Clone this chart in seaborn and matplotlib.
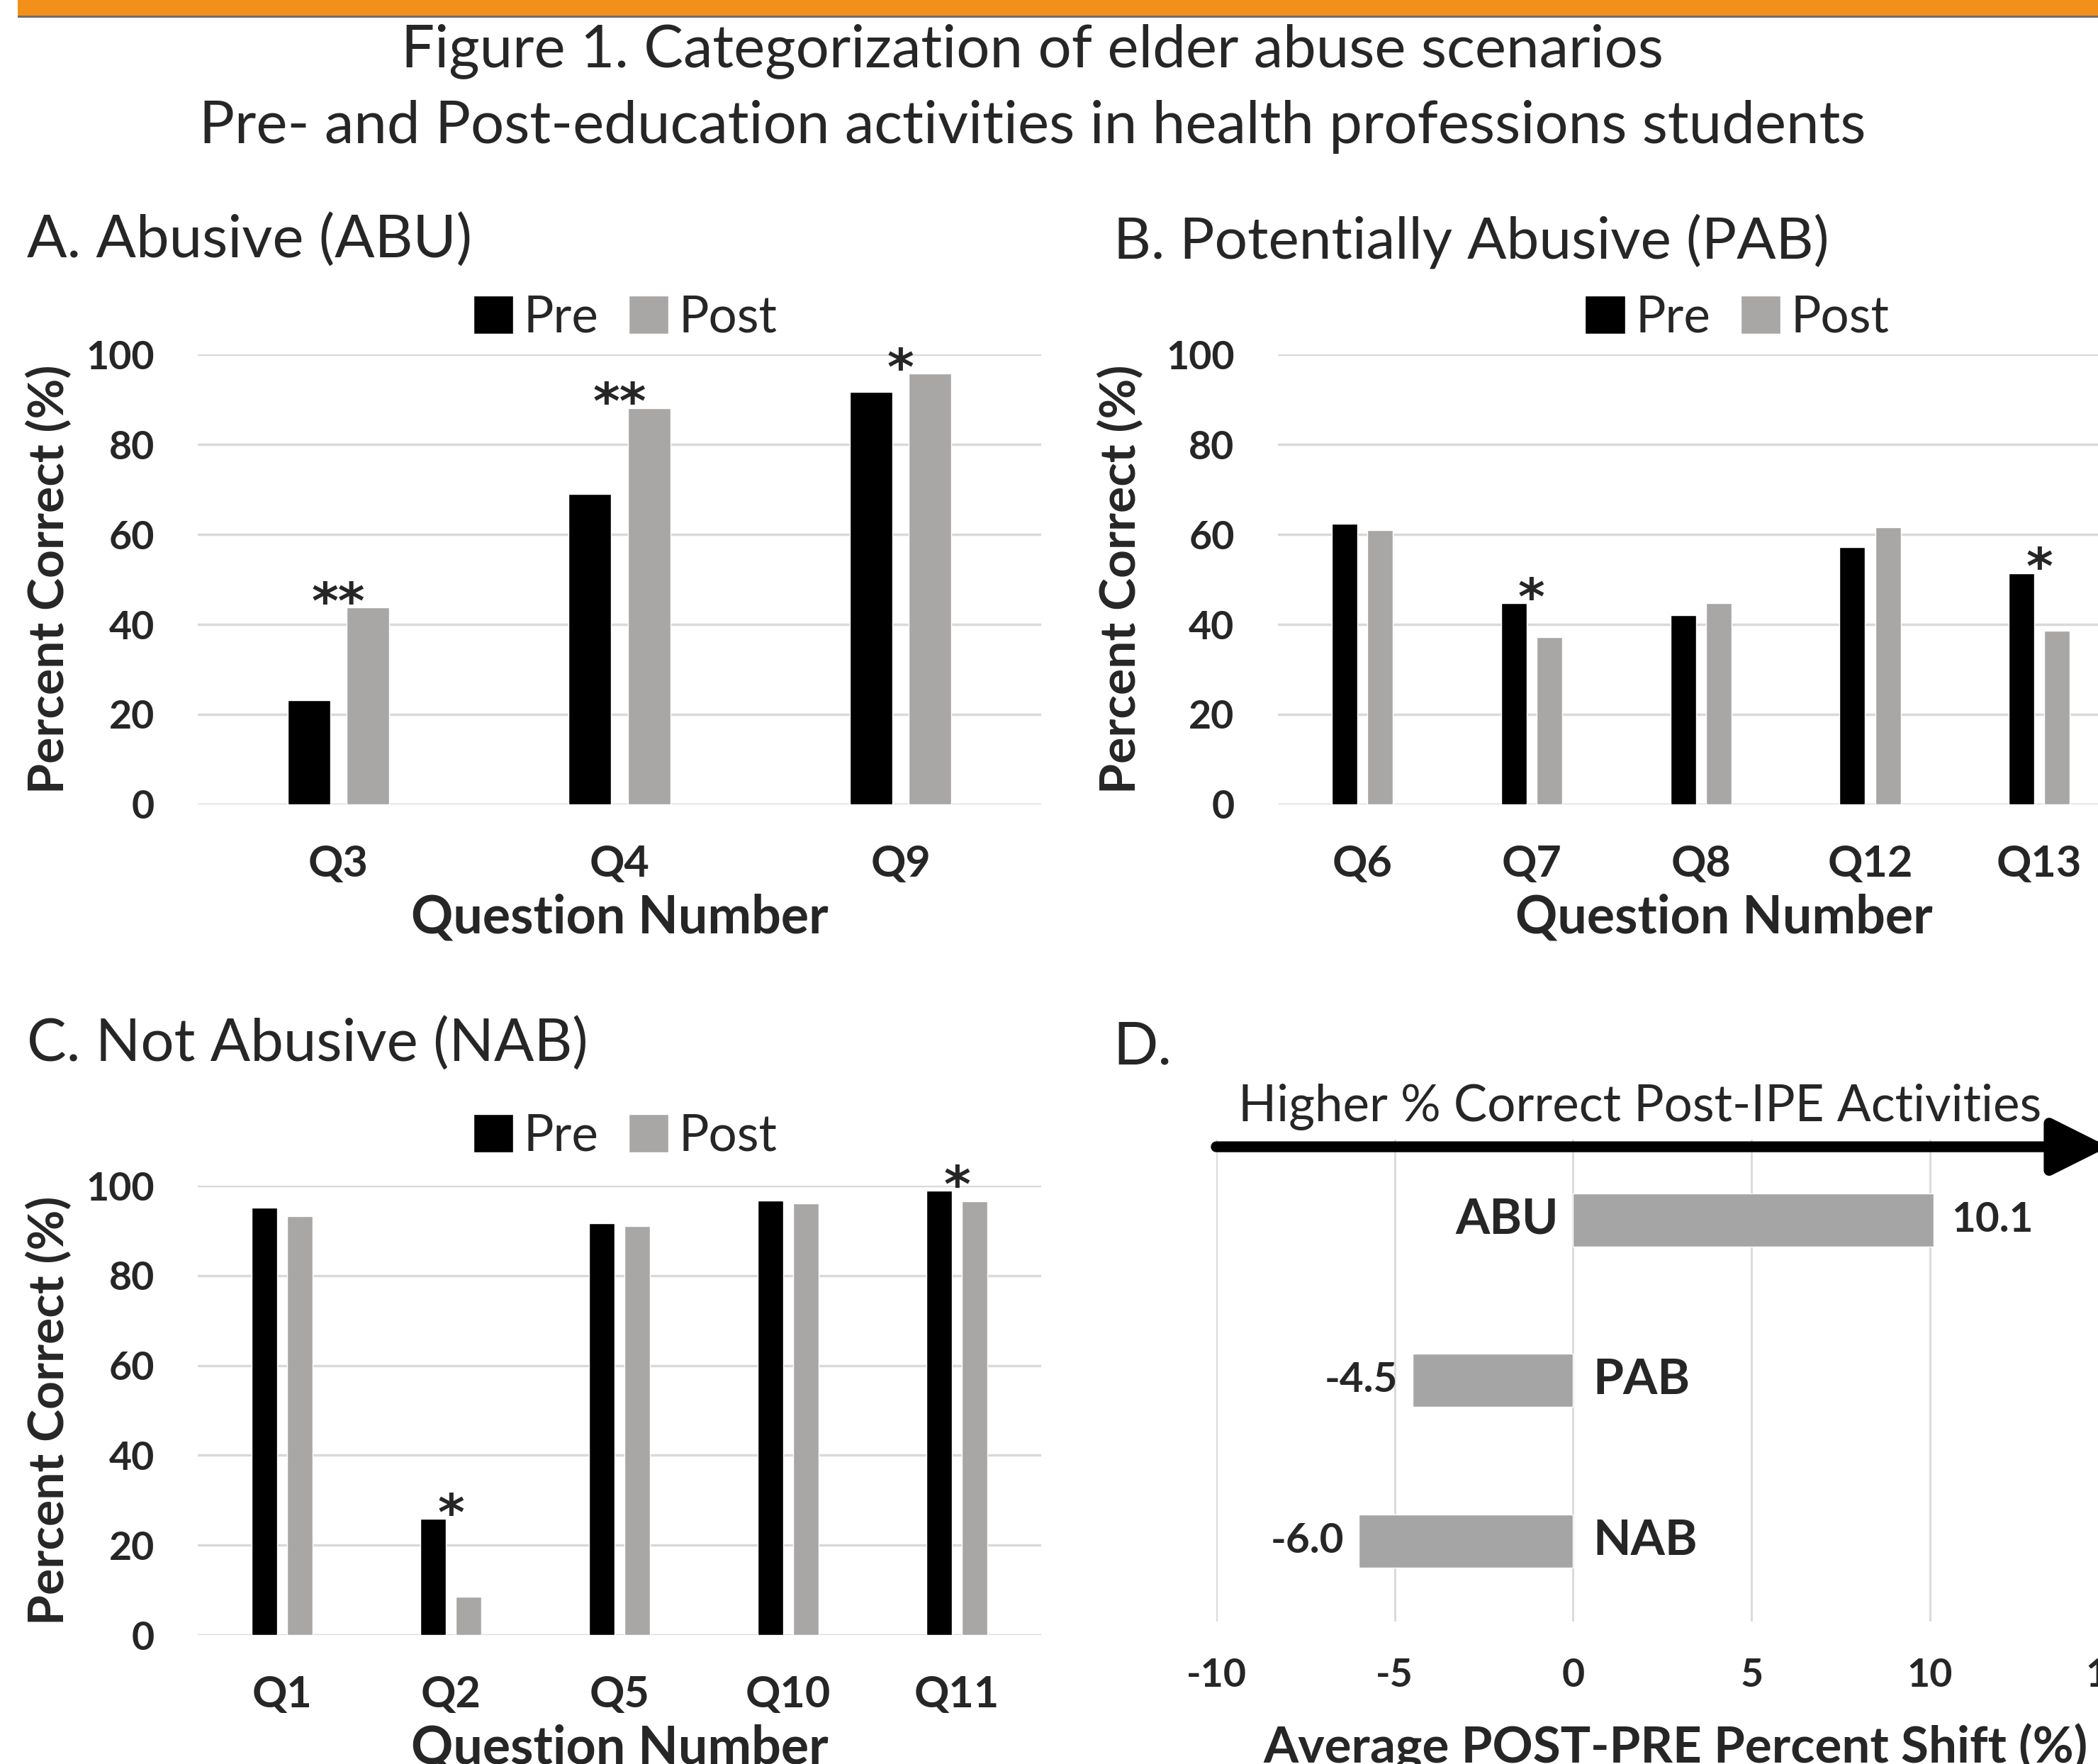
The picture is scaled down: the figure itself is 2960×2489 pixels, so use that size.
import matplotlib
matplotlib.use("Agg")
import matplotlib.pyplot as plt
import seaborn as sns
import pandas as pd
from matplotlib.patches import Rectangle

# data
abu_q = ["Q3", "Q4", "Q9"]
abu_pre = [23.2, 69.0, 91.7]
abu_post = [43.8, 88.1, 95.8]
abu_sig = ["**", "**", "*"]

pab_q = ["Q6", "Q7", "Q8", "Q12", "Q13"]
pab_pre = [62.4, 44.7, 42.1, 57.1, 51.4]
pab_post = [60.9, 37.1, 44.8, 61.5, 38.6]
pab_sig = ["", "*", "", "", "*"]

nab_q = ["Q1", "Q2", "Q5", "Q10", "Q11"]
nab_pre = [95.2, 25.8, 91.6, 96.7, 98.9]
nab_post = [93.3, 8.5, 91.0, 96.0, 96.6]
nab_sig = ["", "*", "", "", "*"]

shift_cat = ["ABU", "PAB", "NAB"]
shift_val = [10.1, -4.5, -6.0]

PALETTE = {"Pre": "#000000", "Post": "#A9A6A6"}
GRID = "#D9D9D9"

sns.set_theme(style="white")
plt.rcParams['font.family'] = ['Lato', 'DejaVu Sans']
plt.rcParams['axes.unicode_minus'] = False

W, H = 2960, 2489
fig = plt.figure(figsize=(W / 100, H / 100), dpi=100)

# orange banner at the top
fig.patches.append(Rectangle((25 / W, 1 - 22 / H), 1, 22 / H, transform=fig.transFigure,
                             facecolor="#F39019", edgecolor="none"))
fig.patches.append(Rectangle((25 / W, 1 - 25 / H), 1, 3 / H, transform=fig.transFigure,
                             facecolor="#6E6E6E", edgecolor="none"))

fig.text(0.492, 0.971, "Figure 1. Categorization of elder abuse scenarios",
         ha="center", va="center", fontsize=60)
fig.text(0.492, 0.928, "Pre- and Post-education activities in health professions students",
         ha="center", va="center", fontsize=60)


def bar_panel(ax, questions, pre, post, sig, legend_xy, ylab_x, xlab_x=0.5):
    n = len(questions)
    df = pd.DataFrame({
        "Question": questions * 2,
        "Time": ["Pre"] * n + ["Post"] * n,
        "Percent": pre + post,
    })
    sns.barplot(data=df, x="Question", y="Percent", hue="Time", palette=PALETTE,
                width=0.42, gap=0.28, saturation=1, errorbar=None, ax=ax)
    ax.set_ylim(0, 100)
    ax.set_xlim(-0.5, n - 0.5)
    ax.set_yticks(range(0, 101, 20))
    ax.grid(axis="y", color=GRID, lw=2.5)
    ax.set_axisbelow(True)
    sns.despine(ax=ax, left=True, bottom=True)
    ax.tick_params(axis="y", length=0, pad=44, labelsize=40)
    ax.tick_params(axis="x", length=0, pad=40, labelsize=44)
    for lab in ax.get_xticklabels() + ax.get_yticklabels():
        lab.set_fontweight("bold")

    ax.set_ylabel("Percent Correct (%)", fontsize=50, fontweight="bold")
    ax.yaxis.set_label_coords(ylab_x, 0.5)
    ax.yaxis.label.set_va("center")
    ax.set_xlabel("Question Number", fontsize=53, fontweight="bold")
    ax.xaxis.set_label_coords(xlab_x, -0.252)
    ax.xaxis.label.set_va("center")

    handles, labels = ax.get_legend_handles_labels()
    ax.get_legend().remove()
    ax.legend(handles, labels, loc="center", bbox_to_anchor=legend_xy,
              bbox_transform=fig.transFigure, ncol=2, frameon=False, fontsize=51,
              handlelength=0.8, handleheight=0.8, handletextpad=0.2, columnspacing=0.6,
              borderpad=0)

    for i, s in enumerate(sig):
        if s:
            ax.text(i, max(pre[i], post[i]) - 2.5, s, ha="center", va="baseline",
                    fontsize=52, fontweight="bold", family="DejaVu Sans", clip_on=False)


# A
axA = fig.add_axes([0.0943, 0.544, 0.402, 0.2551])
bar_panel(axA, abu_q, abu_pre, abu_post, abu_sig, (0.298, 0.820), -0.176)
fig.text(0.0128, 0.8634, "A. Abusive (ABU)", ha="left", va="center", fontsize=60)

# B
axB = fig.add_axes([0.609, 0.544, 0.4034, 0.2551])
bar_panel(axB, pab_q, pab_pre, pab_post, pab_sig, (0.828, 0.820), -0.185, 0.527)
fig.text(0.5307, 0.8634, "B. Potentially Abusive (PAB)", ha="left", va="center", fontsize=59)

# C
axC = fig.add_axes([0.0943, 0.0731, 0.402, 0.2547])
bar_panel(axC, nab_q, nab_pre, nab_post, nab_sig, (0.298, 0.356), -0.176)
fig.text(0.0128, 0.4077, "C. Not Abusive (NAB)", ha="left", va="center", fontsize=60)

# D
axD = fig.add_axes([0.5797, 0.0808, 0.4253, 0.2732])
dfD = pd.DataFrame({"Category": shift_cat, "Shift": shift_val})
sns.barplot(data=dfD, y="Category", x="Shift", orient="h", color="#A5A5A5",
            saturation=1, width=0.33, errorbar=None, ax=axD)
axD.set_xlim(-10, 15)
axD.set_ylim(2.5, -0.5)
axD.set_xticks([-10, -5, 0, 5, 10, 15])
axD.set_yticks([])
axD.grid(axis="x", color=GRID, lw=2)
axD.set_axisbelow(True)
sns.despine(ax=axD, left=True, bottom=True)
axD.tick_params(axis="x", length=0, pad=37, labelsize=40)
for lab in axD.get_xticklabels():
    lab.set_fontweight("bold")
axD.set_ylabel("")
axD.set_xlabel("Average POST-PRE Percent Shift (%)", fontsize=51, fontweight="bold")
axD.xaxis.set_label_coords(0.515, -0.262)
axD.xaxis.label.set_va("center")

for i, (cat, v) in enumerate(zip(shift_cat, shift_val)):
    if v > 0:
        axD.text(-0.4, i, cat, ha="right", va="center", fontsize=50, fontweight="bold")
        axD.text(v + 0.5, i, f"{v:.1f}", ha="left", va="center", fontsize=42, fontweight="bold")
    else:
        axD.text(0.55, i, cat, ha="left", va="center", fontsize=50, fontweight="bold")
        axD.text(v - 0.42, i, f"{v:.1f}", ha="right", va="center", fontsize=42, fontweight="bold")

axD.annotate("", xy=(15.0, 0.985), xytext=(-10, 0.985),
             xycoords=("data", "axes fraction"), textcoords=("data", "axes fraction"),
             arrowprops=dict(arrowstyle="-|>,head_length=0.4,head_width=0.2", lw=11,
                             color="black", mutation_scale=120, shrinkA=0, shrinkB=0),
             annotation_clip=False)
axD.text(1.87, 1.067, "Higher % Correct Post-IPE Activities", transform=axD.get_xaxis_transform(),
         ha="center", va="center", fontsize=51)
fig.text(0.5307, 0.406, "D.", ha="left", va="center", fontsize=60)

fig.savefig("out.png", dpi=100, facecolor="white")
